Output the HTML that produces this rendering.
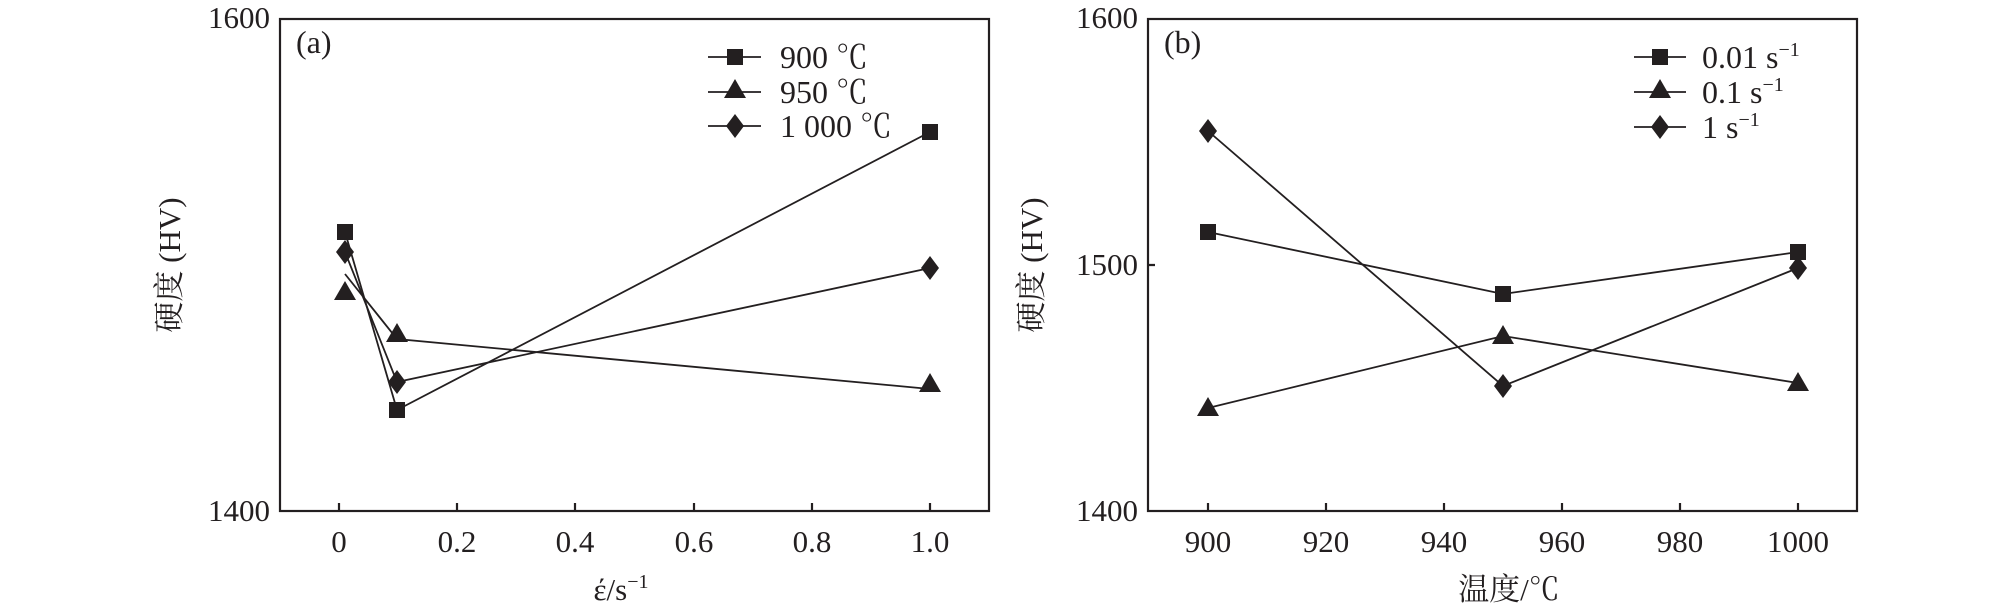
<!DOCTYPE html>
<html><head><meta charset="utf-8"><style>
html,body{margin:0;padding:0;background:#fff}
svg{display:block}
</style></head><body>
<svg width="2008" height="612" viewBox="0 0 2008 612" xmlns="http://www.w3.org/2000/svg" font-family="'Liberation Serif', 'Noto Serif CJK SC', serif" fill="#231f20">
<defs>
<g id="sq"><rect x="-8" y="-8" width="16" height="16" fill="#231f20"/></g>
<g id="tr"><polygon points="0,-11 11,8 -11,8" fill="#231f20"/></g>
<g id="di"><polygon points="0,-12 9,0 0,12 -9,0" fill="#231f20"/></g>
</defs>
<g stroke="#231f20" fill="none" stroke-width="2.2">
<rect x="280" y="19" width="709" height="492"/>
<path d="M339 511v-8M457 511v-8M575 511v-8M694 511v-8M812 511v-8M930 511v-8"/>
<rect x="1148" y="19" width="709" height="492"/>
<path d="M1208 511v-8M1326 511v-8M1444 511v-8M1562 511v-8M1680 511v-8M1798 511v-8M1148 265h7"/>
</g>
<g stroke="#231f20" fill="none" stroke-width="1.8">
<polyline points="345,232 397,410 930,132"/>
<polyline points="345,274 397,339 930,389"/>
<polyline points="345,252 397,382 930,268"/>
<polyline points="1208,232 1503,294 1798,252"/>
<polyline points="1208,408 1503,336 1798,383"/>
<polyline points="1208,131 1503,386 1798,268"/>
<path d="M708 57h53M708 92h53M708 126h53"/>
<path d="M1634 57h52M1634 92h52M1634 127h52"/>
</g>
<use href="#sq" x="345" y="232"/><use href="#sq" x="397" y="410"/><use href="#sq" x="930" y="132"/>
<use href="#tr" x="345" y="292"/><use href="#tr" x="397" y="334"/><use href="#tr" x="930" y="384"/>
<use href="#di" x="345" y="252"/><use href="#di" x="397" y="382"/><use href="#di" x="930" y="268"/>
<use href="#sq" x="1208" y="232"/><use href="#sq" x="1503" y="294"/><use href="#sq" x="1798" y="252"/>
<use href="#tr" x="1208" y="408"/><use href="#tr" x="1503" y="336"/><use href="#tr" x="1798" y="383"/>
<use href="#di" x="1208" y="131"/><use href="#di" x="1503" y="386"/><use href="#di" x="1798" y="268"/>
<use href="#sq" x="735" y="57"/><use href="#tr" x="735" y="90"/><use href="#di" x="735" y="126"/>
<use href="#sq" x="1660" y="57"/><use href="#tr" x="1660" y="90"/><use href="#di" x="1660" y="127"/>
<g font-size="32">
<text x="780" y="68">900 ℃</text>
<text x="780" y="103">950 ℃</text>
<text x="780" y="137">1 000 ℃</text>
<text x="1702" y="68">0.01 s<tspan font-size="20" dy="-12">−1</tspan></text>
<text x="1702" y="103">0.1 s<tspan font-size="20" dy="-12">−1</tspan></text>
<text x="1702" y="138">1 s<tspan font-size="20" dy="-12">−1</tspan></text>
<text x="296" y="53">(a)</text>
<text x="1164" y="53">(b)</text>
</g>
<g font-size="31" text-anchor="end">
<text x="270" y="28">1600</text>
<text x="270" y="521">1400</text>
<text x="1138" y="28">1600</text>
<text x="1138" y="275">1500</text>
<text x="1138" y="521">1400</text>
</g>
<g font-size="31" text-anchor="middle">
<text x="339" y="552">0</text><text x="457" y="552">0.2</text><text x="575" y="552">0.4</text>
<text x="694" y="552">0.6</text><text x="812" y="552">0.8</text><text x="930" y="552">1.0</text>
<text x="1208" y="552">900</text><text x="1326" y="552">920</text><text x="1444" y="552">940</text>
<text x="1562" y="552">960</text><text x="1680" y="552">980</text><text x="1798" y="552">1000</text>
<text x="621" y="600">έ/s<tspan font-size="20" dy="-12">−1</tspan></text>
<text x="1509" y="600">温度/℃</text>
<text transform="translate(180 265) rotate(-90)">硬度 (HV)</text>
<text transform="translate(1042 265) rotate(-90)">硬度 (HV)</text>
</g>
</svg>
</body></html>
